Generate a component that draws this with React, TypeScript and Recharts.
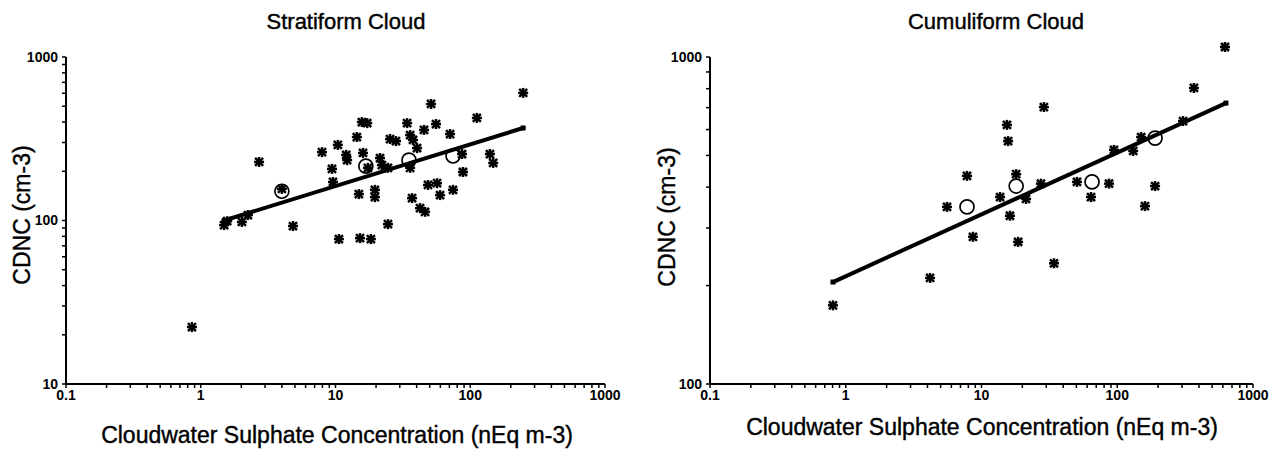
import { ScatterChart, Scatter, XAxis, YAxis } from "recharts";

// Stratiform cloud: individual samples (sulphate nEq m-3, CDNC cm-3)
const stratSulphate = [
  0.86, 1.49, 1.57, 2.02, 2.24, 4.84, 2.71, 4.0, 7.94, 9.42, 9.58, 10.4, 12.0,
  12.2, 14.4, 15.7, 17.2, 16.0, 17.4, 14.9, 19.6, 19.6, 21.4, 22.1, 24.5, 25.4,
  28.1, 34.0, 35.8, 37.6, 40.3, 35.8, 37.0, 42.4, 46.2, 48.6, 56.7, 59.7, 74.5,
  51.2, 45.4, 55.7, 70.8, 86.9, 88.3, 112, 140, 148, 247, 10.6, 15.2, 18.3, 24.5,
];
const stratCdnc = [
  22.3, 93.8, 99, 98, 108, 92.5, 228, 156, 262, 207, 172, 290, 252,
  234, 324, 400, 394, 259, 210, 145, 154, 139, 241, 218, 210, 315,
  306, 394, 333, 311, 277, 210, 137, 119, 113, 165, 169, 143, 154,
  516, 358, 389, 338, 255, 198, 424, 255, 225, 603, 77, 78, 77, 95,
];
const stratMeanSulphate = [4.0, 16.8, 35.1, 74.5];
const stratMeanCdnc = [151, 215, 234, 248];
const stratFitSulphate = [1.49, 247];
const stratFitCdnc = [100, 368];

// Cumuliform cloud
const cumuSulphate = [
  0.805, 4.18, 5.57, 7.82, 8.65, 13.7, 15.4, 15.7, 16.2, 18.0, 18.6, 21.3, 27.4,
  28.8, 34.2, 50.5, 64.1, 87, 94.6, 131, 150, 160, 190, 305, 367, 622,
];
const cumuCdnc = [
  174, 211, 348, 433, 282, 373, 620, 553, 327, 438, 272, 368, 410,
  703, 234, 415, 373, 410, 520, 516, 569, 350, 403, 637, 804, 1073,
];
const cumuMeanSulphate = [7.82, 18.0, 65.2, 190];
const cumuMeanCdnc = [348, 403, 415, 565];
const cumuFitSulphate = [0.805, 632];
const cumuFitCdnc = [205, 723];

const sulphateTicks = [
  0.1, 0.2, 0.3, 0.4, 0.5, 0.6, 0.7, 0.8, 0.9, 1, 2, 3, 4, 5, 6, 7, 8, 9, 10, 20,
  30, 40, 50, 60, 70, 80, 90, 100, 200, 300, 400, 500, 600, 700, 800, 900, 1000,
];
const stratCdncTicks = [
  10, 20, 30, 40, 50, 60, 70, 80, 90, 100, 200, 300, 400, 500, 600, 700, 800, 900, 1000,
];
const cumuCdncTicks = [100, 200, 300, 400, 500, 600, 700, 800, 900, 1000];
const labelledTicks = [0.1, 1, 10, 100, 1000];

const FONT = "'Liberation Sans', Arial, Helvetica, sans-serif";

const zip = (xs: number[], ys: number[]) => xs.map((x, i) => ({ x, y: ys[i] }));

const fmt = (v: number) => (labelledTicks.includes(v) ? String(v) : "");

const StarShape = (p: any) => {
  const { cx, cy } = p;
  const r = 5;
  const d = 4;
  return (
    <g stroke="#000" strokeWidth={2.5}>
      <line x1={cx - r} y1={cy} x2={cx + r} y2={cy} />
      <line x1={cx} y1={cy - r} x2={cx} y2={cy + r} />
      <line x1={cx - d} y1={cy - d} x2={cx + d} y2={cy + d} />
      <line x1={cx - d} y1={cy + d} x2={cx + d} y2={cy - d} />
    </g>
  );
};

const RingShape = (p: any) => (
  <circle cx={p.cx} cy={p.cy} r={7} fill="none" stroke="#000" strokeWidth={1.7} />
);

const EndShape = (p: any) => (
  <rect x={p.cx - 2.5} y={p.cy - 2.5} width={5} height={5} fill="#000" />
);

interface PanelProps {
  left: number;
  yWidth: number;
  rightMargin: number;
  yDomain: [number, number];
  yTicks: number[];
  stars: { x: number; y: number }[];
  means: { x: number; y: number }[];
  fit: { x: number; y: number }[];
}

function Panel({ left, yWidth, rightMargin, yDomain, yTicks, stars, means, fit }: PanelProps) {
  const tickStyle = { fill: "#000", fontSize: 14, fontWeight: "bold", fontFamily: FONT };
  return (
    <div style={{ position: "absolute", left, top: 0 }}>
      <ScatterChart
        width={640}
        height={449}
        margin={{ top: 57, right: rightMargin, bottom: 0, left: 0 }}
      >
        <XAxis
          type="number"
          dataKey="x"
          scale="log"
          domain={[0.1, 1000]}
          allowDataOverflow
          ticks={sulphateTicks}
          interval={0}
          tickFormatter={fmt}
          height={65}
          tickSize={4}
          tickMargin={2}
          tick={tickStyle}
          axisLine={{ stroke: "#000", strokeWidth: 2 }}
          tickLine={{ stroke: "#000", strokeWidth: 1.5 }}
        />
        <YAxis
          type="number"
          dataKey="y"
          scale="log"
          domain={yDomain}
          allowDataOverflow
          ticks={yTicks}
          interval={0}
          tickFormatter={fmt}
          width={yWidth}
          tickSize={4}
          tickMargin={4}
          tick={tickStyle}
          axisLine={{ stroke: "#000", strokeWidth: 2 }}
          tickLine={{ stroke: "#000", strokeWidth: 1.5 }}
        />
        <Scatter
          data={fit}
          line={{ stroke: "#000", strokeWidth: 4 }}
          shape={EndShape}
          isAnimationActive={false}
        />
        <Scatter data={stars} shape={StarShape} isAnimationActive={false} />
        <Scatter data={means} shape={RingShape} isAnimationActive={false} />
      </ScatterChart>
    </div>
  );
}

const textBase: React.CSSProperties = {
  position: "absolute",
  whiteSpace: "nowrap",
  fontFamily: FONT,
  color: "#000",
  lineHeight: 1,
  WebkitTextStroke: "0.4px #000",
};

function Text({ x, y, size, rotate, children }: any) {
  return (
    <div
      style={{
        ...textBase,
        left: x,
        top: y,
        fontSize: size,
        transform: `translate(-50%, -50%)${rotate ? " rotate(-90deg)" : ""}`,
      }}
    >
      {children}
    </div>
  );
}

export default function App() {
  return (
    <div
      style={{
        position: "absolute",
        left: 0,
        top: 0,
        width: 1280,
        height: 449,
        background: "#fff",
        overflow: "hidden",
      }}
    >
      <style>{`.recharts-wrapper [clip-path]{clip-path:none !important}`}</style>
      <Panel
        left={0}
        yWidth={66}
        rightMargin={35}
        yDomain={[10, 1000]}
        yTicks={stratCdncTicks}
        stars={zip(stratSulphate, stratCdnc)}
        means={zip(stratMeanSulphate, stratMeanCdnc)}
        fit={zip(stratFitSulphate, stratFitCdnc)}
      />
      <Panel
        left={640}
        yWidth={70}
        rightMargin={27}
        yDomain={[100, 1000]}
        yTicks={cumuCdncTicks}
        stars={zip(cumuSulphate, cumuCdnc)}
        means={zip(cumuMeanSulphate, cumuMeanCdnc)}
        fit={zip(cumuFitSulphate, cumuFitCdnc)}
      />
      <Text x={346} y={22} size={22}>Stratiform Cloud</Text>
      <Text x={996} y={22} size={22}>Cumuliform Cloud</Text>
      <Text x={22} y={215} size={23} rotate>CDNC (cm-3)</Text>
      <Text x={667} y={217} size={23} rotate>CDNC (cm-3)</Text>
      <Text x={337} y={435} size={23}>Cloudwater Sulphate Concentration (nEq m-3)</Text>
      <Text x={982} y={427} size={23}>Cloudwater Sulphate Concentration (nEq m-3)</Text>
    </div>
  );
}
